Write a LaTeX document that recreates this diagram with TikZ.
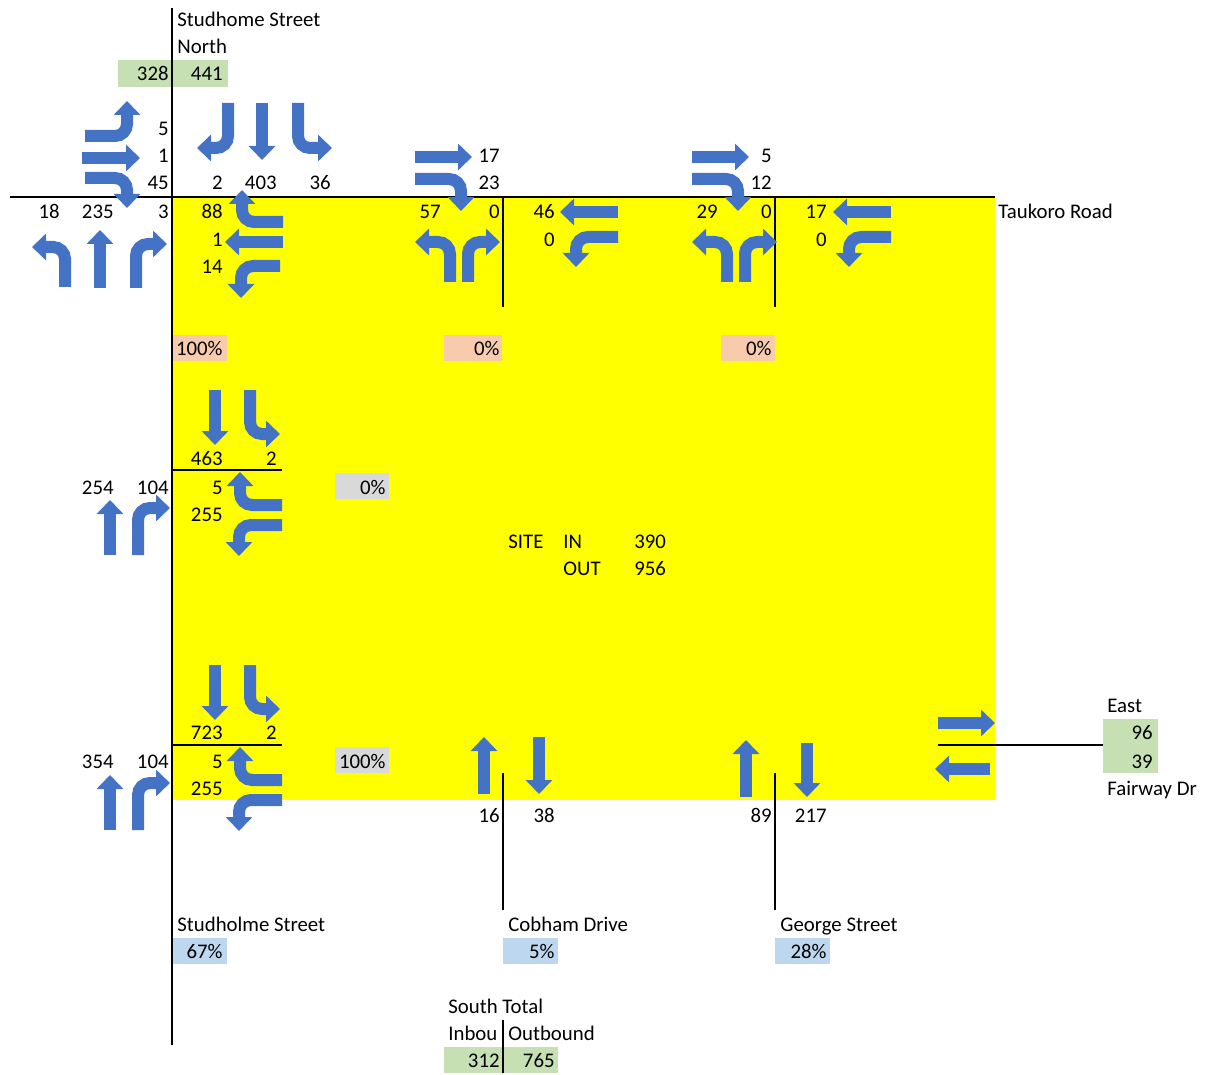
\documentclass[tikz,border=0pt]{standalone}
\usepackage{fontspec}
\setmainfont{Carlito}
\usetikzlibrary{arrows.meta}
\definecolor{flowblue}{HTML}{4472C4}
\definecolor{sitefill}{HTML}{FFFF00}
\definecolor{totgreen}{HTML}{C6E0B4}
\definecolor{pctpink}{HTML}{F8CBAD}
\definecolor{pctgray}{HTML}{D9D9D9}
\definecolor{pctblue}{HTML}{BDD7EE}
\begin{document}
\begin{tikzpicture}[x=0.5pt,y=-0.5pt,every node/.style={font=\fontsize{10.4}{12}\selectfont},
  num/.style={anchor=east,inner sep=0pt,text height=7pt,text depth=0pt},
  lbl/.style={anchor=west,inner sep=0pt,text height=7pt,text depth=0pt},
  road/.style={line width=1pt},
  flow/.style={draw=flowblue,line width=6pt,rounded corners=6pt,-{Triangle[width=13pt,length=7pt]}}]
\useasboundingbox (0,0) rectangle (1210,1075);
% site area and coloured cells
\fill[sitefill] (172,197) rectangle (995,800);
\foreach \a/\b/\c/\d in {118/60/228/87,1103/719/1158/773,444/1047/558/1073} \fill[totgreen] (\a,\b) rectangle (\c,\d);
\foreach \a/\b in {172/227,444/502,721/775} \fill[pctpink] (\a,335) rectangle (\b,361);
\foreach \b in {473,747} \fill[pctgray] (335,\b) rectangle (389,\b+26);
\foreach \a in {172,503,775} \fill[pctblue] (\a,938) rectangle (\a+55,964);
% roads
\draw[road] (172,8) -- (172,1045);
\draw[road] (10,197) -- (995,197);
\foreach \x in {503,775} {\draw[road] (\x,197) -- (\x,307); \draw[road] (\x,773) -- (\x,910);}
\foreach \y in {470,745} \draw[road] (172,\y) -- (282,\y);
\draw[road] (938,745) -- (1103,745);
\draw[road] (503,1020) -- (503,1073);
% Studhome St / Taukoro Rd movements
\draw[flow] (85,136) -- (127,136) -- (127,101);
\draw[flow] (82,158) -- (140,158);
\draw[flow] (85,178) -- (127,178) -- (127,208);
\draw[flow] (228,103) -- (228,148) -- (197,148);
\draw[flow] (262,103) -- (262,160);
\draw[flow] (298,103) -- (298,148) -- (332,148);
\draw[flow] (65,287) -- (65,247) -- (32,247);
\draw[flow] (100,288) -- (100,230);
\draw[flow] (136,288) -- (136,244) -- (167,244);
\draw[flow] (283,222) -- (242,222) -- (242,190);
\draw[flow] (283,242) -- (225,242);
\draw[flow] (280,266) -- (241,266) -- (241,298);
% site accesses on Taukoro Rd
\foreach \s/\t in {0/0,277/273} {
\begin{scope}[shift={(\s,0)}]
\draw[flow] (415,157) -- (472,157);
\draw[flow] (415,179) -- (461,179) -- (461,211);
\draw[flow] (450,282) -- (450,242) -- (415,242);
\draw[flow] (468,282) -- (468,242) -- (500,242);
\end{scope}
\begin{scope}[shift={(\t,0)}]
\draw[flow] (618,212) -- (560,212);
\draw[flow] (618,237) -- (576,237) -- (576,267);
\end{scope}}
% site accesses on Studholme St
\foreach \s in {0,275} {
\begin{scope}[shift={(0,\s)}]
\draw[flow] (215,390) -- (215,445);
\draw[flow] (250,390) -- (250,434) -- (280,434);
\draw[flow] (282,505) -- (240,505) -- (240,472);
\draw[flow] (282,525) -- (239,525) -- (239,556);
\draw[flow] (110,555) -- (110,500);
\draw[flow] (138,555) -- (138,508) -- (170,508);
\end{scope}}
% south and east legs
\draw[flow] (484,794) -- (484,737);
\draw[flow] (539,737) -- (539,794);
\draw[flow] (746,797) -- (746,740);
\draw[flow] (807,743) -- (807,797);
\draw[flow] (938,723) -- (995,723);
\draw[flow] (990,769) -- (935,769);
% volumes
\foreach \x/\y/\t [count=\i] in {169/74/328,223/74/441,169/129/5,169/156/1,169/183/45,
  223/183/2,277/183/403,331/183/36,60/212/18,114/212/235,169/212/3,223/212/88,223/240/1,223/267/14,
  500/156/17,500/183/23,441/212/57,500/212/0,555/212/46,555/240/0,
  772/156/5,772/183/12,718/212/29,772/212/0,827/212/17,827/240/0,
  223/348/100\%,500/348/0\%,772/348/0\%,
  223/458/463,277/458/2,114/487/254,169/487/104,223/487/5,223/514/255,386/487/0\%,
  223/732/723,277/732/2,114/761/354,169/761/104,223/761/5,223/788/255,386/761/100\%,
  500/815/16,555/815/38,772/815/89,827/815/217,1153/732/96,1153/761/39,
  223/951/67\%,555/951/5\%,827/951/28\%,500/1060/312,555/1060/765}
  \node[num] (v\i) at (\x,\y) {\t};
% labels
\foreach \x/\y/\t [count=\i] in {177/20/Studhome Street,177/47/North,998/212/Taukoro Road,
  508/541/SITE,563/541/IN,634/541/390,563/568/OUT,634/568/956,
  1107/705/East,1107/788/Fairway Dr,177/924/Studholme Street,508/924/Cobham Drive,
  780/924/George Street,448/1006/South Total,448/1033/Inbou,508/1033/Outbound}
  \node[lbl] (t\i) at (\x,\y) {\t};
\end{tikzpicture}
\end{document}
